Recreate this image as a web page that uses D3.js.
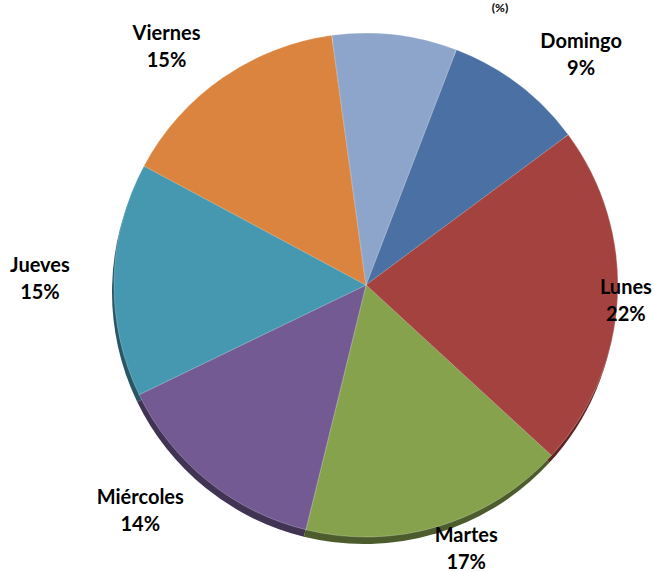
<!DOCTYPE html>
<html>
<head>
<meta charset="utf-8">
<script src="https://cdn.jsdelivr.net/npm/d3@7"></script>
<style>
  html, body { margin: 0; padding: 0; background: #ffffff; }
  svg { display: block; }
</style>
</head>
<body>
<svg id="chart" width="654" height="572"></svg>
<script>
// ---- data ----
const categories = ["Domingo", "Lunes", "Martes", "Miércoles", "Jueves", "Viernes", "Sábado"];
const values = [9, 22, 17, 14, 15, 15, 8];
const labelsShown = [true, true, true, true, true, true, false];
const colors = ["#4A70A4", "#A4423F", "#86A24D", "#735A93", "#4698B1", "#DA843F", "#8EA5CB"];
const titleText = "(%)";

// ---- layout ----
const W = 654, H = 572;
const cx = 366, cy = 285, R = 252;
const startDeg = 21;
const svg = d3.select("#chart");

const data = categories.map((c, i) => ({ name: c, value: values[i], color: colors[i], show: labelsShown[i] }));

const pie = d3.pie()
  .sort(null)
  .value(d => d.value)
  .startAngle(startDeg * Math.PI / 180)
  .endAngle(startDeg * Math.PI / 180 + 2 * Math.PI);

const arcs = pie(data);
const arc = d3.arc().innerRadius(0).outerRadius(R);

// title fragment visible at the top
svg.append("text")
  .attr("x", 500).attr("y", 12)
  .attr("text-anchor", "middle")
  .attr("font-family", "Lato, 'Open Sans', sans-serif")
  .attr("font-weight", "bold")
  .attr("font-size", 12)
  .attr("fill", "#000")
  .text(titleText);

// depth (3D edge) layer
const depth = svg.append("g").attr("transform", `translate(${cx - 2},${cy + 7})`);
depth.selectAll("path").data(arcs).join("path")
  .attr("d", arc)
  .attr("fill", d => d3.color(d.data.color).darker(1.6));

// main slices
const g = svg.append("g").attr("transform", `translate(${cx},${cy})`);
g.selectAll("path").data(arcs).join("path")
  .attr("d", arc)
  .attr("fill", d => d.data.color)
  .attr("stroke", "rgba(255,255,255,0.25)")
  .attr("stroke-width", 1);

// labels (outside end, pushed out by their width, kept inside the frame)
const fontSize = 20, lineGap = 27;
const labelG = svg.append("g")
  .attr("font-family", "Lato, 'Open Sans', sans-serif")
  .attr("font-weight", "bold")
  .attr("font-size", fontSize)
  .attr("fill", "#000")
  .attr("text-anchor", "middle");

arcs.filter(d => d.data.show).forEach(d => {
  const mid = (d.startAngle + d.endAngle) / 2;
  const s = Math.sin(mid), c = -Math.cos(mid);
  const t = labelG.append("text");
  t.append("tspan").attr("x", 0).attr("dy", 0).text(d.data.name);
  t.append("tspan").attr("x", 0).attr("dy", lineGap).text(Math.round(d.value) + "%");
  const bb = t.node().getBBox();
  const w = bb.width;
  let x = cx + s * (315 + 0.5 * w);
  let y = cy + 290 * c;
  x = Math.max(w / 2 + 10, Math.min(W - w / 2 - 2, x));
  y = Math.max(30, Math.min(548, y));
  t.attr("transform", `translate(${x},${y - lineGap / 2 + fontSize * 0.35})`);
});
</script>
</body>
</html>
